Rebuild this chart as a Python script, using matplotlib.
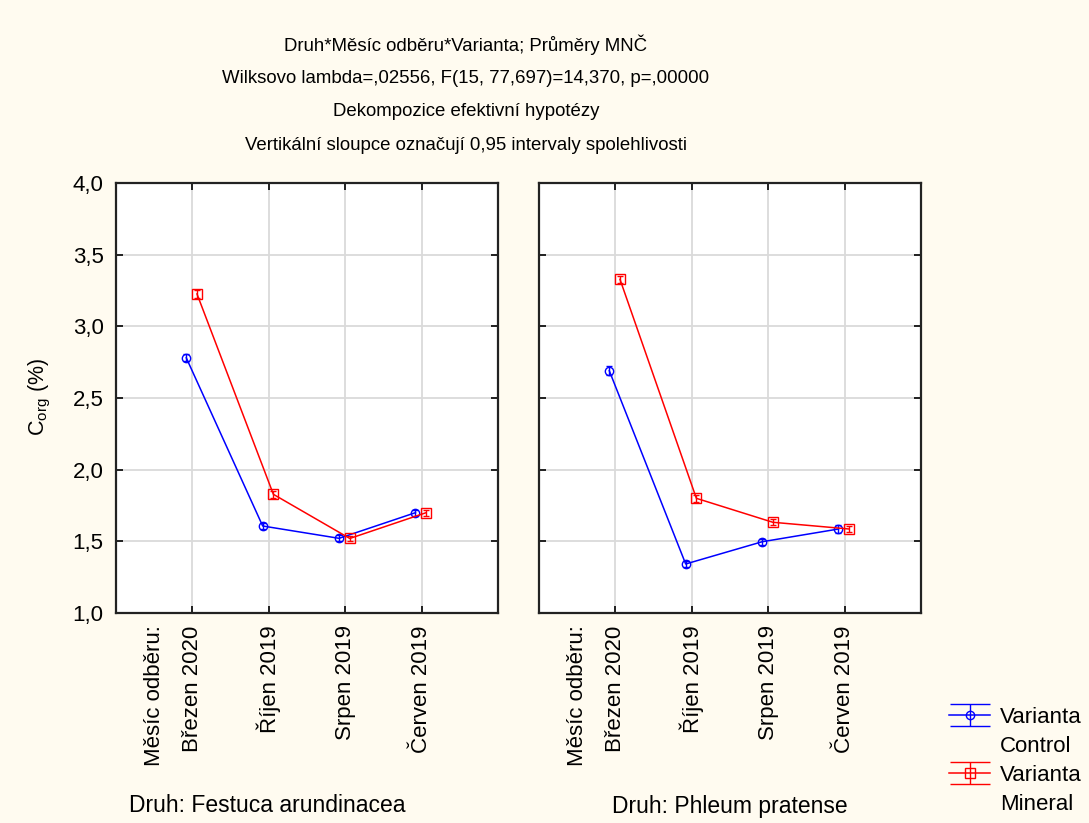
import numpy as np
import matplotlib
matplotlib.use('Agg')
from matplotlib import pyplot as plt
from matplotlib.legend_handler import HandlerErrorbar
from matplotlib.lines import Line2D

plt.rcParams['font.family'] = ['Liberation Sans', 'DejaVu Sans']
plt.rcParams['font.size'] = 16

months = ['Březen 2020', 'Říjen 2019', 'Srpen 2019', 'Červen 2019']
species = ['Festuca arundinacea', 'Phleum pratense']

# prumery C_org (%) - Control / Mineral, pro kazdy druh
control = [[2.78, 1.607, 1.521, 1.70],
           [2.69, 1.342, 1.497, 1.586]]
mineral = [[3.226, 1.828, 1.52, 1.70],
           [3.328, 1.80, 1.633, 1.586]]
# polovina 95% intervalu spolehlivosti
control_ci = [[0.025, 0.02, 0.02, 0.02],
              [0.03, 0.02, 0.02, 0.025]]
mineral_ci = [[0.025, 0.025, 0.02, 0.02],
              [0.025, 0.025, 0.02, 0.02]]

title_lines = ['Druh*Měsíc odběru*Varianta; Průměry MNČ',
               'Wilksovo lambda=,02556, F(15, 77,697)=14,370, p=,00000',
               'Dekompozice efektivní hypotézy',
               'Vertikální sloupce označují 0,95 intervaly spolehlivosti']

bg = '#FFFBF0'
fig = plt.figure(figsize=(10.89, 8.23), dpi=100, facecolor=bg)

W, H = 1089, 823
boxes = [(116, 498), (539, 921)]
top, bottom = 183, 613
x = np.arange(1, len(months) + 1)

axes = []
for i, (l, r) in enumerate(boxes):
    ax = fig.add_axes([l / W, 1 - bottom / H, (r - l) / W, (bottom - top) / H])
    ax.set_facecolor('white')
    ebc = ax.errorbar(x - 0.08, control[i], yerr=control_ci[i], color='#0000FF',
                      marker='o', mfc='none', ms=6, mew=1, lw=1.1,
                      capsize=2.5, elinewidth=1)
    ebm = ax.errorbar(x + 0.06, mineral[i], yerr=mineral_ci[i], color='#FF0000',
                      marker='s', mfc='none', ms=7, mew=1, lw=1.1,
                      capsize=2.5, elinewidth=1)
    ax.set_xlim(0, 5)
    ax.set_ylim(1.0, 4.0)
    ax.set_yticks(np.arange(1.0, 4.01, 0.5))
    ax.set_xticks(x)
    ax.set_xticklabels(months, rotation=90, va='top', ha='center')
    ax.set_xticks([0.5], ['Měsíc odběru:'], minor=True, rotation=90, va='top', ha='center')
    ax.tick_params(axis='x', which='minor', length=0, pad=9)
    ax.tick_params(which='major', direction='in', length=5, width=1.2,
                   top=True, right=True, pad=9, labelsize=16)
    ax.grid(True, which='major', color='#DADADA', lw=1.3)
    ax.set_axisbelow(True)
    if i == 0:
        ax.set_yticklabels([f'{v:.1f}'.replace('.', ',') for v in np.arange(1.0, 4.01, 0.5)])
    else:
        ax.set_yticklabels([])
    for s in ax.spines.values():
        s.set_linewidth(1.6)
        s.set_color('#222222')
    axes.append(ax)

for k, line in enumerate(title_lines):
    fig.text(466 / W, 1 - (45 + 33.5 * k) / H, line, ha='center', va='center', fontsize=13.4)

fig.text(40 / W, 1 - 397 / H, r'C$_\mathregular{org}$ (%)', rotation=90,
         ha='center', va='center', fontsize=15.5)
fig.text(267 / W, 1 - 806 / H, 'Druh: ' + species[0], ha='center', va='center', fontsize=16.5)
fig.text(730 / W, 1 - 806 / H, 'Druh: ' + species[1], ha='center', va='center', fontsize=16.5)


class WideCaps(HandlerErrorbar):
    def create_artists(self, *args, **kwargs):
        arts = super().create_artists(*args, **kwargs)
        for a in arts:
            if isinstance(a, Line2D) and a.get_marker() == '_':
                a.set_markersize(29)
        return arts


# legenda: kazdy popisek na dvou radcich, znacka u prvniho radku
blank = Line2D([], [], color='none')
handles = [ebc, blank, ebm, blank]
labels = ['Varianta', 'Control', 'Varianta', 'Mineral']
fig.legend(handles, labels, loc='upper left', bbox_to_anchor=(938 / W, 1 - 696 / H),
           frameon=False, handlelength=1.85, handletextpad=0.45, labelspacing=0.36,
           borderpad=0, fontsize=16,
           handler_map={type(ebc): WideCaps(yerr_size=0.5)})

plt.savefig('out.png', dpi=100, facecolor=bg)
